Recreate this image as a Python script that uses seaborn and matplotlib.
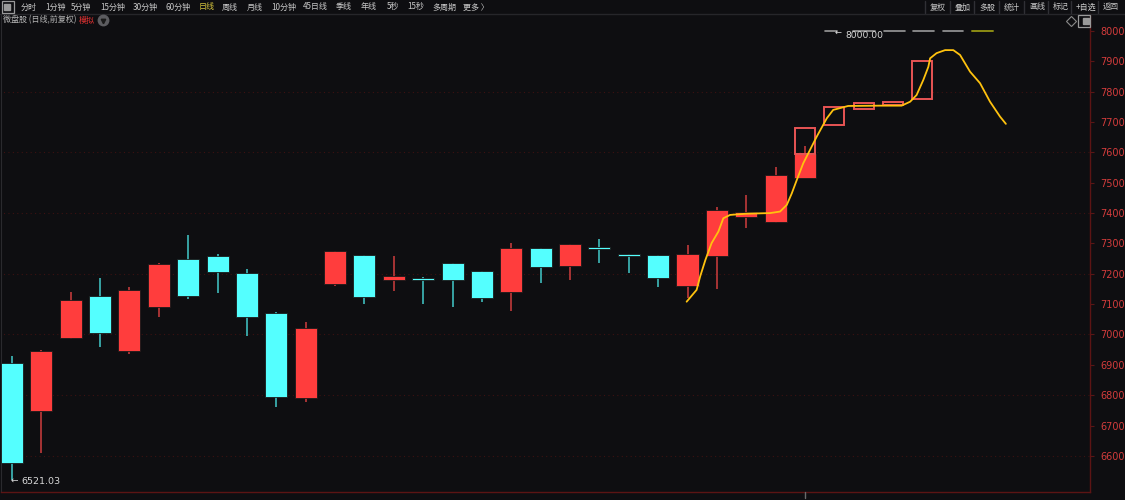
import numpy as np
import pandas as pd
import matplotlib
matplotlib.use("Agg")
import matplotlib.pyplot as plt
import seaborn as sns
from matplotlib.lines import Line2D

# daily candles (微盘股, 前复权)
opens = [6907, 6748, 6988, 7128, 6947, 7089, 7248, 7257, 7203, 7071,
         6790, 7166, 7262, 7178, 7185, 7236, 7208, 7140, 7285, 7227,
         7289, 7266, 7262, 7161, 7257, 7386, 7372, 7517]
highs = [6929, 6948, 7141, 7185, 7156, 7235, 7328, 7264, 7216, 7074,
         7040, 7276, 7263, 7259, 7188, 7237, 7210, 7302, 7286, 7298,
         7314, 7266, 7263, 7296, 7420, 7460, 7552, 7621]
lows = [6521, 6611, 6985, 6960, 6936, 7056, 7118, 7138, 6994, 6762,
        6779, 7161, 7100, 7144, 7100, 7089, 7108, 7079, 7169, 7180,
        7235, 7202, 7158, 7121, 7151, 7350, 7367, 7515]
closes = [6578, 6946, 7114, 7004, 7147, 7233, 7128, 7205, 7056, 6795,
          7021, 7275, 7123, 7193, 7180, 7181, 7120, 7285, 7224, 7297,
          7281, 7260, 7186, 7264, 7409, 7404, 7526, 7595]

# simulated (模拟) candles, drawn hollow
sim_idx = [27, 28, 29, 30, 31]
sim_open = [7595, 7689, 7743, 7756, 7776]
sim_close = [7679, 7750, 7762, 7765, 7902]

# simulated path (yellow line)
line_x = [22.97, 23.31, 23.43, 23.61, 23.82, 24.05, 24.22, 24.45, 25.01, 25.81,
          26.15, 26.38, 26.55, 26.72, 26.94, 27.40, 27.74, 27.96, 28.47, 29.55,
          30.29, 30.58, 30.80, 31.03, 31.20, 31.26, 31.48, 31.77, 32.05, 32.28,
          32.62, 32.96, 33.30, 33.64, 33.84]
line_y = [7108, 7147, 7191, 7246, 7301, 7339, 7383, 7394, 7398, 7400,
          7405, 7427, 7465, 7509, 7564, 7652, 7712, 7740, 7753, 7754,
          7754, 7767, 7789, 7839, 7882, 7910, 7927, 7937, 7937, 7921,
          7866, 7828, 7767, 7718, 7694]

yticks = list(range(6600, 8001, 100))
grid_levels = list(range(6600, 7801, 200))

left_menu = ["分时", "1分钟", "5分钟", "15分钟", "30分钟", "60分钟", "日线", "周线", "月线",
             "10分钟", "45日线", "季线", "年线", "5秒", "15秒", "多周期", "更多 〉"]
left_menu_x = [21, 45, 71, 100, 133, 165, 199, 222, 247, 271, 303, 336, 361, 387, 407, 432, 463]
right_menu = ["复权", "叠加", "多股", "统计", "画线", "标记", "+自选", "返回"]
right_menu_x = [930, 955, 979, 1004, 1029, 1053, 1076, 1103]

W, H = 1125, 500
BG = "#0e0e11"
UP = "#ff3d3d"
DOWN = "#54ffff"
MENU_FS = 5.8

sns.set_theme(style="dark", rc={"axes.facecolor": BG, "figure.facecolor": BG,
                                "savefig.facecolor": BG})
plt.rcParams["font.family"] = ["Noto Sans CJK SC", "DejaVu Sans"]


def fx(x):
    return x / W


def fy(y):
    return 1 - y / H


fig = plt.figure(figsize=(W / 100, H / 100), dpi=100)
ax = fig.add_axes([fx(1), fy(492), (1090 - 1) / W, (492 - 14) / H])

df = pd.DataFrame({"open": opens, "high": highs, "low": lows, "close": closes})
df["x"] = np.arange(len(df))
df["up"] = df["close"] >= df["open"]

# wicks
wick_cols = np.where(df["up"], "#c03a3a", "#3fbcbc")
ax.vlines(df["x"], df["low"], df["high"], colors=wick_cols, lw=1.2, zorder=2)
# bodies
body_cols = np.where(df["up"], UP, DOWN)
ax.bar(df["x"], df["close"] - df["open"], bottom=df["open"], width=0.75,
       color=body_cols, edgecolor="#1a1a1a", linewidth=0.6, zorder=3)

# hollow simulated candles
ax.bar(sim_idx, np.subtract(sim_close, sim_open), bottom=sim_open, width=0.68,
       fill=False, edgecolor="#e85454", linewidth=1.4, zorder=4)

# yellow path
sns.lineplot(x=line_x, y=line_y, ax=ax, color="#ffc20e", lw=1.3,
             estimator=None, sort=False, zorder=5)

# dotted grid
ax.hlines(grid_levels, -1, 40, colors="#3c1212", linestyles=(0, (1, 3)), lw=0.8, zorder=1)

ax.set_xlim((1 - 12) / 29.37, (1090 - 12) / 29.37)
ax.set_ylim(6481, 8056)
ax.set_xticks([])
ax.yaxis.tick_right()
ax.set_yticks(yticks)
ax.tick_params(axis="y", colors="#5a1616", labelcolor="#d43c3c", labelsize=7,
               length=3, width=0.8, pad=4.5, right=True, left=False)
for lab in ax.get_yticklabels():
    lab.set_family("DejaVu Sans")
ax.grid(False)
for side in ["right", "bottom"]:
    ax.spines[side].set_color("#5c1414")
    ax.spines[side].set_linewidth(1.0)
ax.spines["left"].set_color("#2a2a2e")
ax.spines["left"].set_linewidth(0.8)
ax.spines["top"].set_visible(False)

# low / high markers
ax.annotate("6521.03", xy=(0, 6521), xytext=(6.5, -1), textcoords="offset points",
            color="#d8d8d8", fontsize=6.8, va="center", ha="left", family="DejaVu Sans")
fig.text(fx(11), fy(480), "←", color="#d8d8d8", fontsize=6.5, va="center", ha="left",
         family="DejaVu Sans")
fig.text(fx(835), fy(32), "←", color="#e0e0e0", fontsize=6, va="center", ha="left",
         family="DejaVu Sans")
fig.text(fx(845), fy(36), "8000.00", color="#d8d8d8", fontsize=6.6, va="center", ha="left",
         family="DejaVu Sans")

# top-right dashes (MA legend)
dash_spans = [(825, 837), (853, 875), (884, 905), (913, 934), (943, 963)]
for a, b in dash_spans:
    fig.add_artist(Line2D([fx(a), fx(b)], [fy(31), fy(31)], color="#9a9a9a", lw=1.2))
fig.add_artist(Line2D([fx(972), fx(993)], [fy(31), fy(31)], color="#8c8c14", lw=1.4))

# toolbar
fig.add_artist(Line2D([0, 1], [fy(14), fy(14)], color="#26262a", lw=1))
fig.add_artist(Line2D([fx(8)], [fy(7)], marker="s", markersize=8, markerfacecolor="none",
                      markeredgecolor="#9a9a9a", markeredgewidth=0.9))
fig.add_artist(Line2D([fx(6.5)], [fy(7)], marker="s", markersize=4.5, color="#9a9a9a"))
for name, x in zip(left_menu, left_menu_x):
    col = "#d2c23c" if name == "日线" else "#c8c8c8"
    fig.text(fx(x), fy(7), name, color=col, fontsize=MENU_FS, va="center", ha="left")
for name, x in zip(right_menu, right_menu_x):
    fig.text(fx(x), fy(7), name, color="#c8c8c8", fontsize=MENU_FS, va="center", ha="left")
    fig.add_artist(Line2D([fx(x - 5), fx(x - 5)], [fy(1), fy(13)], color="#303035", lw=1))

# title row
fig.text(fx(3), fy(20), "微盘股 (日线,前复权)", color="#b4b4b4", fontsize=MENU_FS,
         va="center", ha="left")
fig.text(fx(79), fy(20), "模拟", color="#e03232", fontsize=MENU_FS, va="center", ha="left")
fig.add_artist(Line2D([fx(103)], [fy(20)], marker="o", markersize=7.5, color="#5c5c60"))
fig.add_artist(Line2D([fx(103)], [fy(21)], marker="v", markersize=3.2, color="#1a1a1a"))
fig.add_artist(Line2D([fx(1071)], [fy(21)], marker="D", markersize=5, markerfacecolor="none",
                      markeredgecolor="#8a8a8a", markeredgewidth=0.8))
fig.add_artist(Line2D([fx(1084)], [fy(21)], marker="s", markersize=8, markerfacecolor="none",
                      markeredgecolor="#9a9a9a", markeredgewidth=0.9))
fig.add_artist(Line2D([fx(1086)], [fy(21)], marker="s", markersize=4, color="#9a9a9a"))

# small date tick under the last real candle
fig.add_artist(Line2D([fx(805), fx(805)], [fy(492), fy(498)], color="#6a6a6a", lw=1))

fig.savefig("out.png", dpi=100)
